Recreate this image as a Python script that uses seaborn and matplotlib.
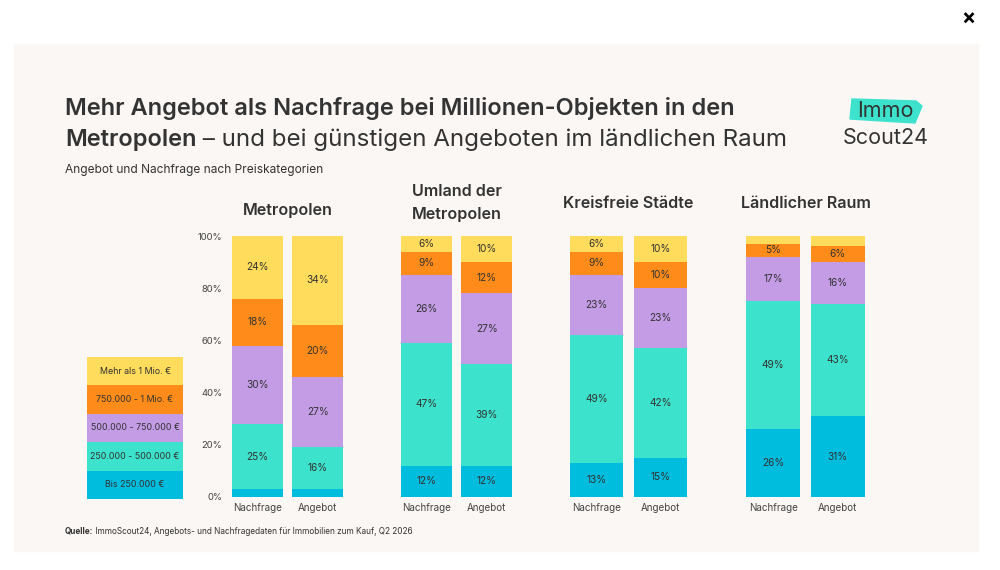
import matplotlib
matplotlib.use("Agg")
import matplotlib.pyplot as plt
from matplotlib.patches import Rectangle, Polygon
import seaborn as sns
import numpy as np

# ---------------- data ----------------
categories = ["Bis 250.000 €", "250.000 - 500.000 €", "500.000 - 750.000 €",
              "750.000 - 1 Mio. €", "Mehr als 1 Mio. €"]
colors = ["#00BCDD", "#3CE2CB", "#C49CE6", "#FF8C1A", "#FFDC5C"]
bar_labels = ["Nachfrage", "Angebot"]
regions = ["Metropolen", "Umland der\nMetropolen", "Kreisfreie Städte", "Ländlicher Raum"]

metropolen_nachfrage = [3, 25, 30, 18, 24]
metropolen_angebot = [3, 16, 27, 20, 34]
umland_nachfrage = [12, 47, 26, 9, 6]
umland_angebot = [12, 39, 27, 12, 10]
kreisfrei_nachfrage = [13, 49, 23, 9, 6]
kreisfrei_angebot = [15, 42, 23, 10, 10]
laendlich_nachfrage = [26, 49, 17, 5, 3]
laendlich_angebot = [31, 43, 16, 6, 4]

yticks = [0, 20, 40, 60, 80, 100]
ytick_labels = ["0%", "20%", "40%", "60%", "80%", "100%"]

title_line1 = "Mehr Angebot als Nachfrage bei Millionen-Objekten in den"
title_line2a = "Metropolen"
title_line2b = " – und bei günstigen Angeboten im ländlichen Raum"
subtitle = "Angebot und Nachfrage nach Preiskategorien"
source_a = "Quelle:"
source_b = " ImmoScout24, Angebots- und Nachfragedaten für Immobilien zum Kauf, Q2 2026"

panel_data = [
    (metropolen_nachfrage, metropolen_angebot),
    (umland_nachfrage, umland_angebot),
    (kreisfrei_nachfrage, kreisfrei_angebot),
    (laendlich_nachfrage, laendlich_angebot),
]

# ---------------- style ----------------
sns.set_style("white")
plt.rcParams["font.family"] = ["Inter", "DejaVu Sans"]
TXT = "#333333"

W, H = 1000, 570
fig = plt.figure(figsize=(W / 100, H / 100), dpi=100)
fig.patch.set_facecolor("white")

bg = fig.add_axes([0, 0, 1, 1], zorder=0)
bg.set_xlim(0, W)
bg.set_ylim(H, 0)
bg.axis("off")
bg.add_patch(Rectangle((14, 44), 964, 507, color="#FAF7F4", zorder=0))
bg.text(968, 19, "×", fontsize=15, fontweight="bold", color="black", ha="center", va="center")

# title
TS = 17
t1 = bg.text(65, 108, title_line1, fontsize=TS, fontweight="semibold", color=TXT, va="center", ha="left")
t2 = bg.text(65, 140, title_line2a, fontsize=TS, fontweight="semibold", color=TXT, va="center", ha="left")
bg.annotate(title_line2b, xy=(1, 0), xycoords=t2, va="bottom", ha="left",
            fontsize=17.4, color=TXT)
bg.text(65, 170, subtitle, fontsize=8.6, color=TXT, va="center", ha="left")
s1 = bg.text(65, 531, source_a, fontsize=5.9, fontweight="bold", color=TXT, va="center", ha="left")
bg.annotate(source_b, xy=(1, 0), xycoords=s1, va="bottom", ha="left", fontsize=5.9, color=TXT)

# logo
bg.add_patch(Polygon([(852, 99), (916, 101), (922, 106), (915, 123), (850, 119)],
                     closed=True, color="#3CE2CB", zorder=1))
bg.text(885, 111, "Immo", fontsize=15.5, color=TXT, ha="center", va="center", zorder=2)
bg.text(886, 138, "Scout24", fontsize=15.5, color=TXT, ha="center", va="center", zorder=2)


def px_axes(left, right, top, bottom):
    return fig.add_axes([left / W, 1 - bottom / H, (right - left) / W, (bottom - top) / H], zorder=2)


# panel pixel extents (bar left edge, bar right edge)
panel_x = [(232, 343), (401, 512), (570, 687), (746, 865)]
panel_title_y = [211, 203, 203, 203]
TOP, BOTTOM = 236, 497
BW = 0.84

for i, ((nach, ang), (xl, xr)) in enumerate(zip(panel_data, panel_x)):
    ax = px_axes(xl, xr, TOP, BOTTOM)
    ax.set_facecolor("none")
    vals = np.array([nach, ang])  # 2 x 5
    cum = np.cumsum(vals, axis=1)
    for k in range(len(categories) - 1, -1, -1):
        sns.barplot(x=bar_labels, y=cum[:, k], color=colors[k], width=BW,
                    saturation=1, ax=ax, linewidth=0, order=bar_labels)
    for j in range(2):
        for k in range(len(categories)):
            v = vals[j, k]
            if v >= 5:
                ax.text(j, cum[j, k] - v / 2, f"{v}%", ha="center", va="center",
                        fontsize=7.3, color=TXT)
    ax.set_xlim(-BW / 2, 1 + BW / 2)
    ax.set_ylim(0, 100)
    ax.set_xlabel("")
    ax.set_ylabel("")
    for sp in ax.spines.values():
        sp.set_visible(False)
    ax.tick_params(axis="x", length=0, pad=4, labelsize=7.1, labelcolor="#444444")
    if i == 0:
        ax.set_yticks(yticks)
        ax.set_yticklabels(ytick_labels)
        ax.tick_params(axis="y", length=0, pad=7, labelsize=6.8, labelcolor="#444444")
    else:
        ax.set_yticks([])
    cx = (xl + xr) / 2
    bg.text(cx, panel_title_y[i], regions[i], fontsize=11.6, fontweight="semibold",
            color=TXT, ha="center", va="center", linespacing=1.65)

# legend block
lax = px_axes(87, 183, 357, 499)
lax.set_facecolor("none")
leg_cats = categories[::-1]
leg_cols = colors[::-1]
sns.barplot(x=[1] * len(leg_cats), y=leg_cats, hue=leg_cats, palette=leg_cols,
            width=1.0, saturation=1, orient="h", legend=False, ax=lax, linewidth=0)
for j, c in enumerate(leg_cats):
    lax.text(0.5, j, c, ha="center", va="center", fontsize=6.4, color=TXT)
lax.set_xlim(0, 1)
lax.set_ylim(len(leg_cats) - 0.5, -0.5)
lax.axis("off")

fig.savefig("out.png", dpi=100, facecolor=fig.get_facecolor())
